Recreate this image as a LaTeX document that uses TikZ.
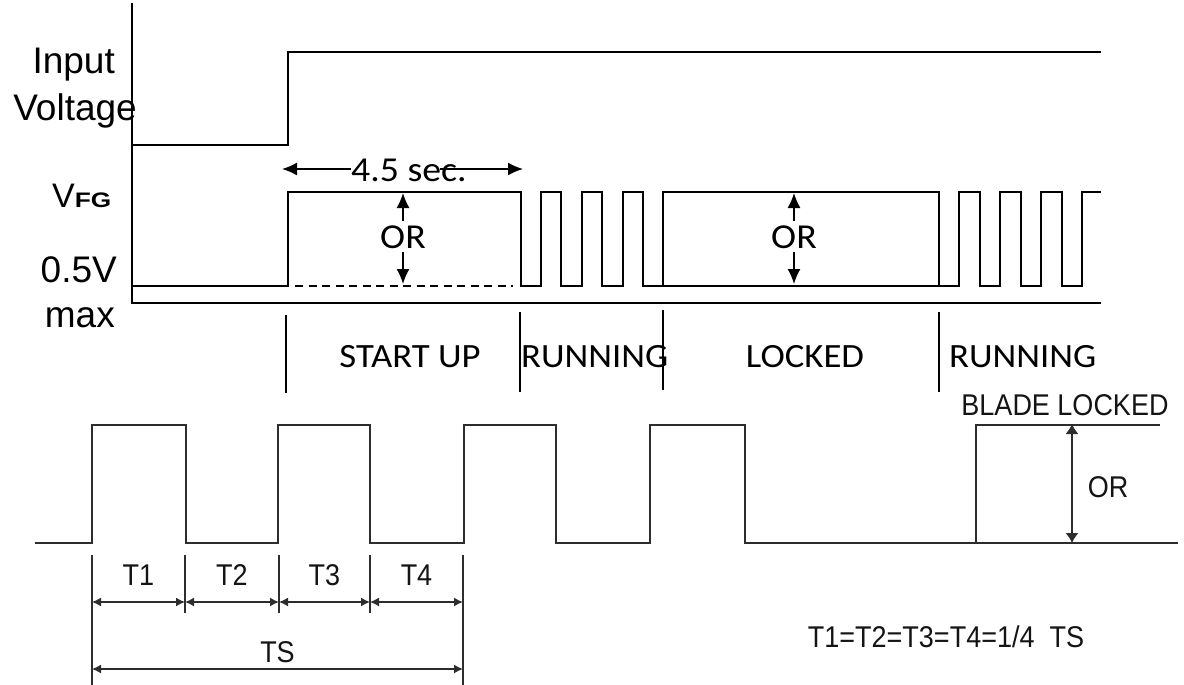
\documentclass[tikz,border=0pt]{standalone}
\usepackage{fontspec}
\setmainfont{Liberation Sans}
\newfontfamily\carl[FakeStretch=1.08]{Carlito}
\newfontfamily\widesans[FakeStretch=1.25]{Liberation Sans}
\newfontfamily\narrowsans[FakeStretch=0.9]{Liberation Sans}
\usetikzlibrary{arrows.meta, math}
\definecolor{wblack}{RGB}{0,0,0}
\definecolor{wgray}{RGB}{45,45,45}
\definecolor{tgray}{RGB}{20,20,20}

\begin{document}
\begin{tikzpicture}[x=1pt, y=-1pt,
  wave/.style={line width=1.6, color=wblack, line join=miter},
  bwave/.style={line width=1.9, color=wgray, line join=miter},
  tick/.style={line width=1.2, color=wblack},
  bigarrow/.style={line width=1.5, -{Latex[length=15pt,width=13pt]}},
  dim/.style={line width=1.5, color=wgray, {Latex[length=9pt,width=9pt]}-{Latex[length=9pt,width=9pt]}},
  leftlbl/.style={anchor=base east, inner sep=0pt, font=\fontsize{37}{40}\selectfont},
  toplbl/.style={anchor=base, inner sep=0pt, font=\carl\fontsize{34}{36}\selectfont},
  botlbl/.style={anchor=base, inner sep=0pt, text=tgray, font=\narrowsans\fontsize{30}{32}\selectfont}]
\tikzmath{
\hi = 192;
\lo = 286;
\bhi = 425;
\blo = 543;
}
\useasboundingbox (0,0) rectangle (1184,685);

% axes
\draw[wave] (132,3) -- (132,303) -- (1101,303);

% input voltage
\draw[wave] (132,145) -- (288,145) -- (288,52) -- (1101,52);

% VFG signal
\draw[wave] (132,\lo) -- (288,\lo) -- (288,\hi) -- (521,\hi) -- (521,\lo)
  \foreach \x in {541,582,623} { -- (\x,\lo) -- (\x,\hi) -- (\x+20,\hi) -- (\x+20,\lo) }
  -- (663,\lo) -- (663,\hi) -- (939,\hi) -- (939,\lo)
  \foreach \x in {959,1000,1041} { -- (\x,\lo) -- (\x,\hi) -- (\x+21,\hi) -- (\x+21,\lo) }
  -- (1082,\lo) -- (1082,\hi) -- (1101,\hi);
\draw[wave] (643,\lo) -- (939,\lo);
\draw[line width=1.2, dash pattern=on 8pt off 5.5pt] (295,\lo) -- (513,\lo);

% left labels
\node[leftlbl] (inp) at (115,74) {Input};
\node[leftlbl] (volt) at (137,121) {Voltage};
\node[anchor=base west, inner sep=0pt] (vfg) at (52,207)
  {\fontsize{34}{36}\selectfont V\widesans\bfseries\fontsize{21}{22}\selectfont FG};
\node[leftlbl] (half) at (117,282) {0.5V};
\node[leftlbl] (vmax) at (115,327) {max};

% 4.5 sec
\node[anchor=base, inner sep=0pt, font=\carl\fontsize{35}{36}\selectfont] (sec) at (409,181) {4.5 sec.};
\coordinate (secl) at (282,169);
\coordinate (secm) at (440,169);
\coordinate (secr) at (523,169);
\draw[bigarrow] (sec.west |- secl) -- (secl);
\draw[bigarrow] (secm) -- (secr);

% OR arrows
\foreach \x/\n in {403/ora, 794/orb}{
  \node[anchor=base, inner sep=4pt, font=\carl\fontsize{35}{36}\selectfont] (\n) at (\x,248) {OR};
  \coordinate (\n t) at (\x,193);
  \coordinate (\n b) at (\x,284);
  \draw[bigarrow] (\n.north) -- (\n t);
  \draw[bigarrow] (\n.south) -- (\n b);
}

% phase ticks
\foreach \x/\ya/\yb in {286/315/393, 520/312/392, 663/310/390, 939/312/392}
  \draw[tick] (\x,\ya) -- (\x,\yb);
\node[toplbl] (start) at (410,367) {START UP};
\node[toplbl, anchor=base west] (run1) at (521,367) {RUNNING};
\node[toplbl] (lock) at (805,367) {LOCKED};
\node[toplbl, anchor=base west] (run2) at (949,367) {RUNNING};

% lower waveform
\draw[bwave] (35,\blo)
  \foreach \a/\b in {92/186, 278/370, 464/556, 650/745} { -- (\a,\blo) -- (\a,\bhi) -- (\b,\bhi) -- (\b,\blo) }
  -- (976,\blo) -- (976,\bhi) -- (1160,\bhi);
\draw[bwave] (976,\blo) -- (1178,\blo);

% dimension lines
\foreach \x/\yb in {92/685, 185/613, 279/613, 370/613, 463/685}
  \draw[line width=1.3, color=wgray] (\x,555) -- (\x,\yb);
\foreach \a/\b/\t in {92/185/T1, 185/279/T2, 279/370/T3, 370/463/T4}
  \draw[dim] (\a,602) -- node[botlbl, yshift=17pt] {\t} (\b,602);
\draw[dim] (92,669) -- node[botlbl, yshift=7pt] {TS} (463,669);

% blade locked
\node[botlbl] (blade) at (1065,415) {BLADE LOCKED};
\coordinate (bladet) at (1072,424);
\coordinate (bladeb) at (1072,543);
\draw[dim, {Latex[length=10pt,width=13pt]}-{Latex[length=10pt,width=13pt]}] (bladet) -- (bladeb);
\node[botlbl] (bor) at (1108,497) {OR};
\node[botlbl] (eq) at (946,647) {T1=T2=T3=T4=1/4\ \ TS};
\end{tikzpicture}
\end{document}
